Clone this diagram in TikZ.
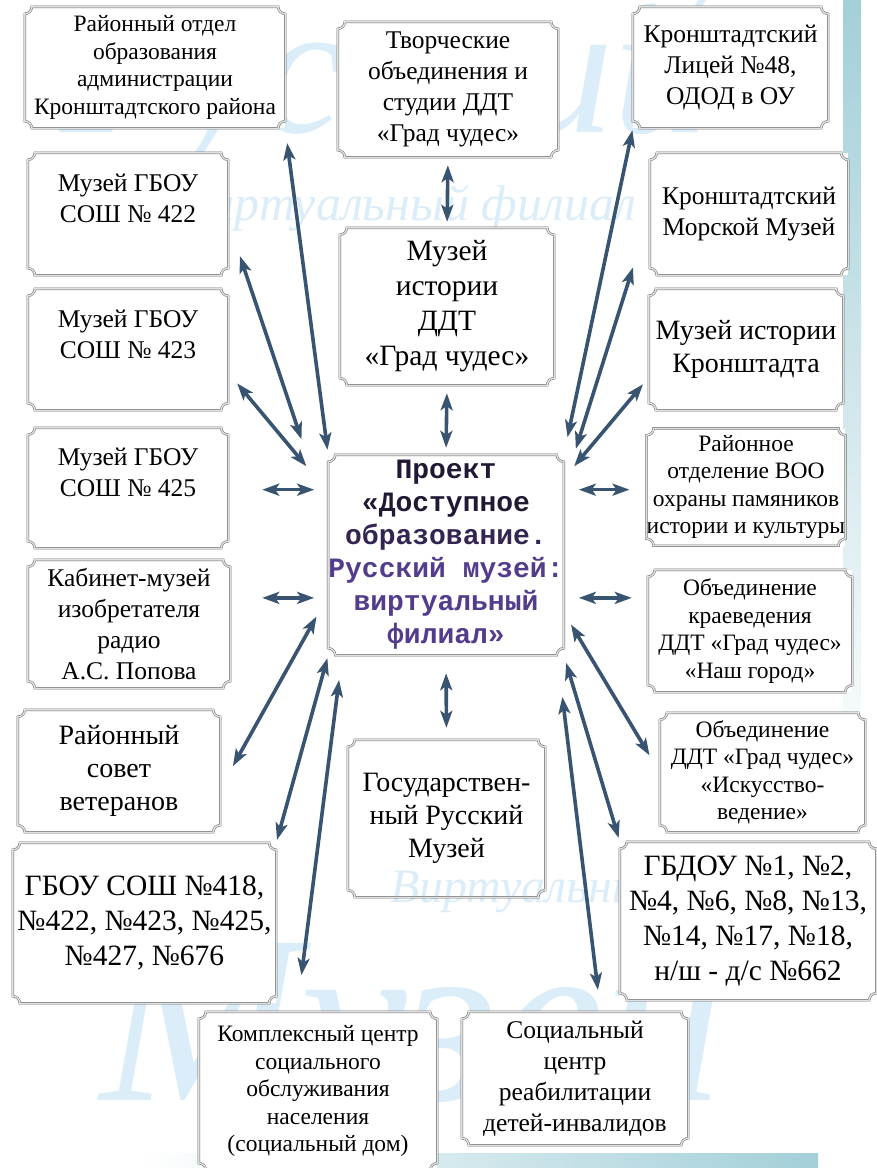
\documentclass[tikz,border=0pt]{standalone}
\usepackage{fontspec}
\setmainfont{Liberation Serif}
\newfontfamily\projfont{Liberation Mono}
\usetikzlibrary{arrows.meta}
\definecolor{arrowcol}{RGB}{56,84,112}
\definecolor{framecol}{RGB}{105,105,105}
\definecolor{bandblue}{RGB}{163,207,217}
\definecolor{wmblue}{RGB}{218,237,248}
\definecolor{projdark}{RGB}{34,24,52}
\definecolor{projmid}{RGB}{52,36,82}
\definecolor{projpurple}{RGB}{84,60,140}
\tikzset{block/.style={fill=white, inner sep=0pt, align=center},
plaque/.style={draw=framecol, line width=0.5pt, double=black!12, double distance=1.4pt},
line/.style={{Stealth[length=17pt,width=12pt,inset=4pt]}-{Stealth[length=17pt,width=12pt,inset=4pt]}, draw=arrowcol, line width=3.6pt},
txts/.style={font=\fontsize{23.5}{27.5}\selectfont},
txtm/.style={font=\fontsize{25.5}{31}\selectfont},
txtl/.style={font=\fontsize{28}{33}\selectfont},
txtxl/.style={font=\fontsize{29.5}{35}\selectfont},
wmark/.style={text=wmblue, inner sep=0pt, anchor=base west}
}

\begin{document}
\begin{tikzpicture}[x=1pt, y=-1pt]
\useasboundingbox (0,0) rectangle (877,1168);

% background
\shade[top color=bandblue, bottom color=white] (843,0) rectangle (861,800);
\shade[left color=white, right color=bandblue] (140,1153) rectangle (818,1168);
\node[wmark, font=\fontsize{190}{190}\selectfont\itshape] (wmtop) at (60,132) {Русский};
\node[wmark, font=\fontsize{50}{50}\selectfont\itshape, anchor=base] (wmmid) at (412,220) {виртуальный филиал};
\node[wmark, font=\fontsize{240}{240}\selectfont\itshape] (wmbig) at (100,1100) {Музей};

% boxes
\node[block, txts, minimum width=260pt, minimum height=121pt] (adm) at (155,67.5) {Районный отдел\\образования\\администрации\\Кронштадтского района};
\node[block, txtm, minimum width=220pt, minimum height=135pt] (tvor) at (448,89.5) {Творческие\\объединения и\\студии ДДТ\\«Град чудес»};
\node[block, txtm, minimum width=195pt, minimum height=121pt] (licey) at (730.5,67.5) {Кронштадтский\\Лицей №48,\\ОДОД в ОУ};
\node[block, txtm, minimum width=200pt, minimum height=122pt] (m422) at (128,214) {Музей ГБОУ\\СОШ № 422\\~};
\node[block, txtxl, minimum width=214pt, minimum height=157pt] (mddt) at (447,306.5) {Музей\\истории\\ДДТ\\«Град чудес»};
\node[block, txtm, minimum width=198pt, minimum height=122pt] (morsk) at (749,214) {Кронштадтский\\Морской Музей};
\node[block, txtm, minimum width=200pt, minimum height=121pt] (m423) at (128,349.5) {Музей ГБОУ\\СОШ № 423\\~};
\node[block, txtl, minimum width=194pt, minimum height=121pt] (kronm) at (746,349.5) {Музей истории\\Кронштадта};
\node[block, txtm, minimum width=200pt, minimum height=120pt] (m425) at (128,488) {Музей ГБОУ\\СОШ № 425\\~};
\node[block, font=\projfont\bfseries\fontsize{28}{33}\selectfont, minimum width=234pt, minimum height=200pt] (proj) at (446,555) {\color{projdark}Проект\\\color{projdark}«Доступное\\\color{projmid}образование.\\\color{projpurple}Русский музей:\\\color{projpurple}виртуальный\\\color{projpurple}филиал»};
\node[block, txts, minimum width=192pt, minimum height=117pt] (voo) at (746,487) {Районное\\отделение ВОО\\охраны памяников\\истории и культуры};
\node[block, txtm, minimum width=202pt, minimum height=128pt] (popov) at (129,624) {Кабинет-музей\\изобретателя\\радио\\А.С. Попова};
\node[block, txts, minimum width=204pt, minimum height=122pt] (kraev) at (750,631) {Объединение\\краеведения\\ДДТ «Град чудес»\\«Наш город»};
\node[block, txtl, minimum width=202pt, minimum height=122pt] (veter) at (119,771) {Районный\\совет\\ветеранов};
\node[block, txtl, minimum width=197pt, minimum height=157pt] (grm) at (446.5,818.5) {Государствен-\\ный Русский\\Музей};
\node[wmark, font=\fontsize{48}{48}\selectfont\itshape] (wmlow) at (390,902) {Виртуальный филиал};
\node[block, txts, minimum width=205pt, minimum height=119pt] (iskus) at (762.5,772.5) {Объединение\\ДДТ «Град чудес»\\«Искусство-\\ведение»};
\node[block, txtxl, minimum width=263pt, minimum height=160pt] (gbou) at (144.5,923) {ГБОУ СОШ №418,\\№422, №423, №425,\\№427, №676};
\node[block, txtxl, minimum width=256pt, minimum height=158pt] (gbdou) at (748,921) {ГБДОУ №1, №2,\\№4, №6, №8, №13,\\№14, №17, №18,\\н/ш - д/с №662};
\node[block, txts, minimum width=238pt, minimum height=158pt] (kcson) at (318,1091) {Комплексный центр\\социального\\обслуживания\\населения\\(социальный дом)};
\node[block, txtm, minimum width=226pt, minimum height=133pt] (socc) at (575,1078.5) {Социальный\\центр\\реабилитации\\детей-инвалидов};

\foreach \n in {adm,tvor,licey,m422,mddt,morsk,m423,kronm,m425,proj,voo,popov,kraev,veter,grm,iskus,gbou,gbdou,kcson,socc}
  \draw[plaque] ([xshift=7pt]\n.north west) -- ([xshift=-7pt]\n.north east)
    arc[start angle=180, end angle=270, radius=7pt] -- ([yshift=7pt]\n.south east)
    arc[start angle=90, end angle=180, radius=7pt] -- ([xshift=7pt]\n.south west)
    arc[start angle=0, end angle=90, radius=7pt] -- ([yshift=-7pt]\n.north west)
    arc[start angle=270, end angle=360, radius=7pt] -- cycle;

% left side
\draw[line, shorten <=15pt, shorten >=5pt] (adm.south east) -- (proj.north west);
\draw[line, shorten <=37pt, shorten >=84pt] (m422.-4) -- (proj.163);
\draw[line, shorten <=14pt, shorten >=34pt] (m423.-13) -- (proj.152);
\draw[line, shorten <=34pt, shorten >=14pt] (proj.151 -| m425.east) -- (proj.151);
\draw[line, shorten <=32pt, shorten >=14pt] (proj.200 -| popov.east) -- (proj.200);
\draw[line, shorten <=26pt, shorten >=24pt] (veter.-10) -- (proj.199);
\draw[line, shorten <=3pt, shorten >=3pt] (gbou.north east) -- (proj.south west);
\draw[line, shorten <=37pt, shorten >=25pt] (kcson.105) -- (proj.224);
% right side
\draw[line, shorten <=2pt, shorten >=18pt] (licey.south west) -- (proj.north east);
\draw[line, shorten <=56pt, shorten >=40pt] (morsk.west) -- (proj.30);
\draw[line, shorten <=9pt, shorten >=16pt] (kronm.196) -- (proj.33);
\draw[line, shorten <=15pt, shorten >=17pt] (proj.29) -- (proj.29 -| voo.west);
\draw[line, shorten <=15pt, shorten >=16pt] (proj.-20) -- (proj.-20 -| kraev.west);
\draw[line, shorten <=20pt, shorten >=14pt] (iskus.west) -- (proj.-26);
\draw[line, shorten <=4pt, shorten >=8pt] (gbdou.north west) -- (proj.south east);
\draw[line, shorten <=22pt, shorten >=42pt] (socc.69) -- (proj.-42);
% middle column
\draw[line, shorten <=8pt, shorten >=6pt] (tvor.south) -- (mddt.north);
\draw[line, shorten <=8pt, shorten >=7pt] (mddt.south) -- (proj.north);
\draw[line, shorten <=18pt, shorten >=12pt] (proj.south) -- (grm.north);

\end{tikzpicture}
\end{document}
